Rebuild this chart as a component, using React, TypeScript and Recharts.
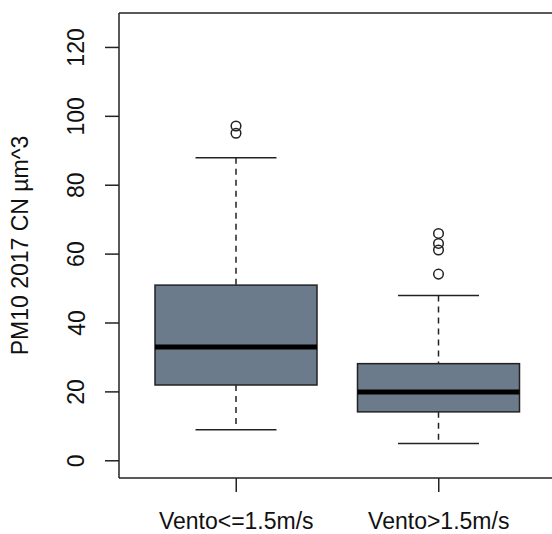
import { ComposedChart, Bar, XAxis, YAxis, ReferenceLine } from "recharts";

const categories = ["Vento<=1.5m/s", "Vento>1.5m/s"];
const whiskerLow = [9, 5];
const q1 = [22, 14.2];
const median = [33, 20];
const q3 = [51, 28.2];
const whiskerHigh = [88, 48];
const outliers = [
  [97.2, 95.1],
  [66, 63.1, 61.2, 54.2],
];
const yTicks = [0, 20, 40, 60, 80, 100, 120];

const data = categories.map((name, i) => ({
  name,
  range: [whiskerLow[i], whiskerHigh[i]],
  lo: whiskerLow[i],
  q1: q1[i],
  med: median[i],
  q3: q3[i],
  hi: whiskerHigh[i],
  out: outliers[i],
}));

const INK = "#222";
const FILL = "#6C7B8B";
const FONT = "'Liberation Sans', Arial, sans-serif";

function BoxShape(props: any) {
  const { x, y, width, height, payload } = props;
  const top = Math.min(y, y + height);
  const bottom = Math.max(y, y + height);
  const k = (bottom - top) / (payload.hi - payload.lo);
  const py = (v: number) => top + (payload.hi - v) * k;
  const cx = x + width / 2;
  const half = width / 4;
  return (
    <g>
      <line x1={cx} x2={cx} y1={py(payload.hi)} y2={py(payload.q3)} stroke={INK} strokeWidth={1.5} strokeDasharray="6 5" />
      <line x1={cx} x2={cx} y1={py(payload.q1)} y2={py(payload.lo)} stroke={INK} strokeWidth={1.5} strokeDasharray="6 5" />
      <line x1={cx - half} x2={cx + half} y1={py(payload.hi)} y2={py(payload.hi)} stroke={INK} strokeWidth={1.5} />
      <line x1={cx - half} x2={cx + half} y1={py(payload.lo)} y2={py(payload.lo)} stroke={INK} strokeWidth={1.5} />
      <rect x={x} y={py(payload.q3)} width={width} height={py(payload.q1) - py(payload.q3)} fill={FILL} stroke={INK} strokeWidth={1.5} />
      <line x1={x} x2={x + width} y1={py(payload.med)} y2={py(payload.med)} stroke="#000" strokeWidth={5} />
      {payload.out.map((v: number, j: number) => (
        <circle key={j} cx={cx} cy={py(v)} r={4.8} fill="none" stroke={INK} strokeWidth={1.5} />
      ))}
    </g>
  );
}

function YTick({ x, y, payload }: any) {
  const bx = x - 18.5;
  return (
    <text x={bx} y={y} transform={`rotate(-90, ${bx}, ${y})`} textAnchor="middle" fontSize={23} fontFamily={FONT} fill="#111">
      {payload.value}
    </text>
  );
}

function XTick({ x, y, payload }: any) {
  return (
    <text x={x} y={y + 35} textAnchor="middle" fontSize={23} fontFamily={FONT} fill="#111">
      {payload.value}
    </text>
  );
}

const yTitle = () => (
  <text x={28} y={245.5} transform="rotate(-90, 28, 245.5)" textAnchor="middle" fontSize={23} fontFamily={FONT} fill="#111">
    PM10 2017 CN µm^3
  </text>
);

export default function App() {
  return (
    <div style={{ position: "absolute", left: 0, top: 0, width: 552, height: 534, overflow: "hidden", background: "#fff" }}>
      <ComposedChart width={560} height={534} data={data} margin={{ top: 13, right: 4, bottom: 0, left: 0 }}>
        <XAxis
          dataKey="name"
          height={56}
          padding={{ left: 16, right: 16 }}
          tickSize={14}
          tickMargin={2}
          axisLine={{ stroke: INK, strokeWidth: 1.5 }}
          tickLine={{ stroke: INK, strokeWidth: 1.5 }}
          tick={<XTick />}
        />
        <YAxis
          type="number"
          domain={[-5, 130]}
          ticks={yTicks}
          width={119}
          tickSize={14}
          tickMargin={2}
          allowDataOverflow
          axisLine={{ stroke: INK, strokeWidth: 1.5 }}
          tickLine={{ stroke: INK, strokeWidth: 1.5 }}
          tick={<YTick />}
          label={{ content: yTitle }}
        />
        <ReferenceLine y={130} stroke={INK} strokeWidth={1.5} />
        <Bar dataKey="range" barSize={162} shape={<BoxShape />} isAnimationActive={false} />
      </ComposedChart>
    </div>
  );
}
